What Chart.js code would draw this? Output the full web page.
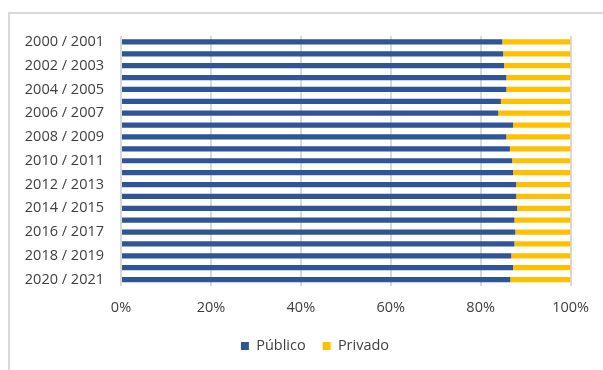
<!DOCTYPE html>
<html>
<head>
<meta charset="utf-8">
<script src="https://cdn.jsdelivr.net/npm/chart.js@4"></script>
<style>
  html, body { margin: 0; padding: 0; background: #ffffff; }
  #wrap { position: relative; width: 603px; height: 370px; overflow: hidden; }
  #frame { position: absolute; left: 8px; top: 12px; width: 700px; height: 400px;
           border-top: 2px solid #d9d9d9; border-left: 2px solid #d9d9d9; box-sizing: border-box; }
  canvas { position: absolute; left: 0; top: 0; }
</style>
</head>
<body>
<div id="wrap">
  <div id="frame"></div>
  <canvas id="chart" width="603" height="370"></canvas>
</div>
<script>
// School years
const categories = [
  '2000 / 2001', '2001 / 2002', '2002 / 2003', '2003 / 2004', '2004 / 2005',
  '2005 / 2006', '2006 / 2007', '2007 / 2008', '2008 / 2009', '2009 / 2010',
  '2010 / 2011', '2011 / 2012', '2012 / 2013', '2013 / 2014', '2014 / 2015',
  '2015 / 2016', '2016 / 2017', '2017 / 2018', '2018 / 2019', '2019 / 2020',
  '2020 / 2021'
];

// Share of enrolment (%)
const publico = [84.8, 85.0, 85.2, 85.7, 85.7, 84.5, 83.9, 87.2, 85.7, 86.5,
                 87.0, 87.2, 87.9, 87.9, 88.1, 87.5, 87.7, 87.5, 86.8, 87.2, 86.6];
const privado = [15.2, 15.0, 14.8, 14.3, 14.3, 15.5, 16.1, 12.8, 14.3, 13.5,
                 13.0, 12.8, 12.1, 12.1, 11.9, 12.5, 12.3, 12.5, 13.2, 12.8, 13.4];

const xTicks = [0, 20, 40, 60, 80, 100];

const font = { family: '"Open Sans", "DejaVu Sans", sans-serif', size: 14.5 };
const textColor = '#404040';

const CANVAS_H = 370;
const PLOT_BOTTOM = 285.5;   // lower edge of the plot area
const LEGEND_MID = 346;      // vertical centre of the legend row
const LEGEND_PAD = 17;

// places the bottom legend row at a fixed height, right of the canvas centre
const legendPlace = {
  id: 'legendPlace',
  afterLayout(chart) {
    const lg = chart.legend;
    if (!lg) return;
    const top = LEGEND_MID - LEGEND_PAD - font.size / 2;
    const dy = top - lg.top;
    lg.top += dy; lg.bottom += dy;
    lg.left += 29; lg.right += 29;
  }
};

new Chart(document.getElementById('chart'), {
  type: 'bar',
  data: {
    labels: categories,
    datasets: [
      { label: 'Público', data: publico, backgroundColor: '#2f5597',
        barPercentage: 0.44, categoryPercentage: 1.0 },
      { label: 'Privado', data: privado, backgroundColor: '#ffc000',
        barPercentage: 0.44, categoryPercentage: 1.0 }
    ]
  },
  plugins: [legendPlace],
  options: {
    indexAxis: 'y',
    responsive: false,
    animation: false,
    devicePixelRatio: 1,
    layout: { padding: { top: 36, right: 31, bottom: 0, left: 0 } },
    plugins: {
      tooltip: { enabled: false },
      legend: {
        position: 'bottom',
        labels: {
          font: font, color: textColor,
          boxWidth: 8, boxHeight: 8, padding: LEGEND_PAD
        }
      }
    },
    scales: {
      x: {
        stacked: true,
        min: 0, max: 100,
        afterBuildTicks: (scale) => { scale.ticks = xTicks.map(v => ({ value: v })); },
        afterFit: (scale) => {
          const lgH = scale.chart.legend ? scale.chart.legend.height : 0;
          scale.height = CANVAS_H - lgH - PLOT_BOTTOM;
        },
        ticks: {
          font: font, color: textColor, padding: 14,
          callback: (v) => v + '%'
        },
        grid: { color: '#d9d9d9', lineWidth: 2, drawTicks: false },
        border: { display: false }
      },
      y: {
        stacked: true,
        afterFit: (scale) => { scale.width = 121; },
        ticks: {
          font: font, color: textColor, padding: 9, autoSkip: false,
          callback: function (v, i) { return i % 2 === 0 ? this.getLabelForValue(v) : ''; }
        },
        grid: { display: false },
        border: { display: false }
      }
    }
  }
});
</script>
</body>
</html>
